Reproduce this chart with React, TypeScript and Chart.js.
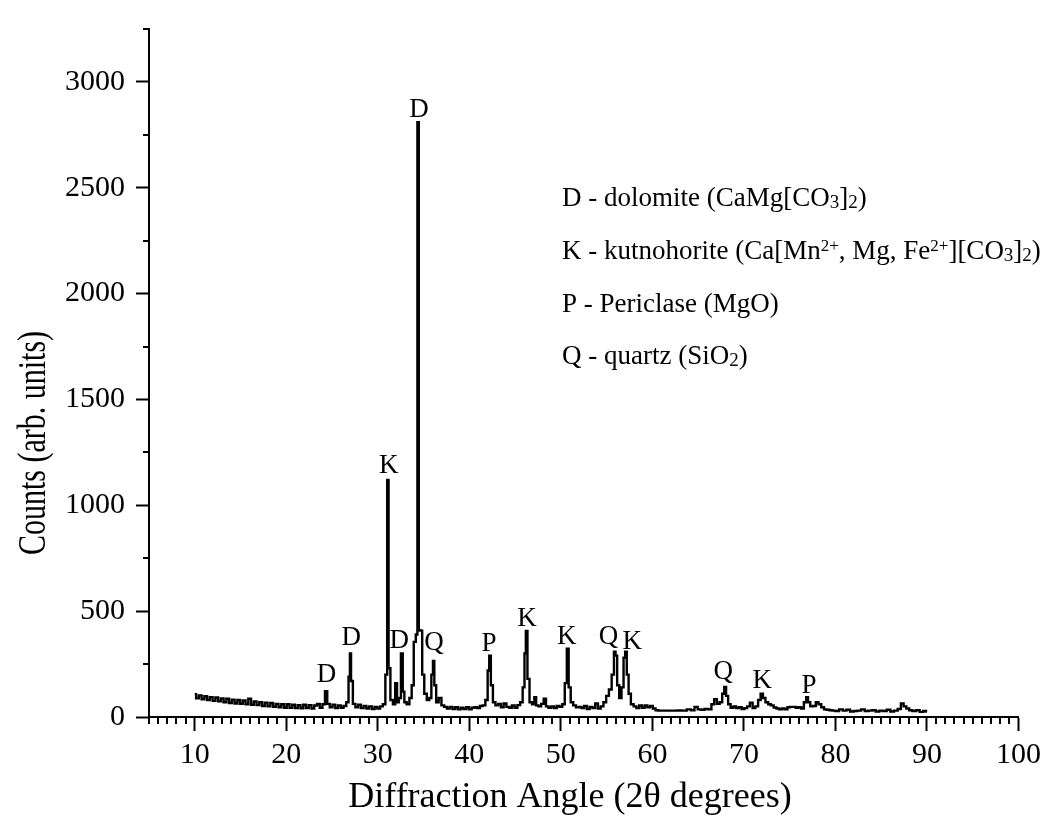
import React, { useEffect, useRef } from 'react';
import { Chart, registerables } from 'chart.js';

Chart.register(...registerables);

// 2θ angles (degrees)
const angles = [
  10.0, 10.3, 10.6, 10.9, 11.2, 11.5, 11.8, 12.1, 12.4, 12.7, 13.0, 13.3, 13.6, 13.9, 14.2, 14.5, 14.8,
  15.1, 15.4, 15.7, 16.0, 16.3, 16.6, 16.9, 17.2, 17.5, 17.8, 18.1, 18.4, 18.7, 19.0, 19.3, 19.6, 19.9,
  20.2, 20.5, 20.8, 21.1, 21.4, 21.7, 22.0, 22.3, 22.6, 22.9, 23.2, 23.5, 23.8, 24.1, 24.35, 24.6, 24.9,
  25.2, 25.5, 25.8, 26.1, 26.4, 26.7, 26.9, 27.0, 27.15, 27.4, 27.7, 28.0, 28.3, 28.6, 28.9, 29.2, 29.5,
  29.8, 30.1, 30.4, 30.7, 30.95, 31.1, 31.25, 31.5, 31.8, 32.0, 32.2, 32.4, 32.65, 32.8, 33.0, 33.3, 33.6,
  33.8, 34.05, 34.25, 34.4, 34.55, 34.75, 34.95, 35.2, 35.5, 35.75, 35.95, 36.1, 36.25, 36.5, 36.8, 37.1,
  37.4, 37.7, 38.0, 38.3, 38.6, 38.9, 39.2, 39.5, 39.8, 40.1, 40.4, 40.7, 41.0, 41.3, 41.6, 41.9, 42.1,
  42.25, 42.45, 42.7, 43.0, 43.3, 43.6, 43.9, 44.2, 44.5, 44.8, 45.1, 45.4, 45.7, 45.95, 46.1, 46.25, 46.45,
  46.7, 47.0, 47.2, 47.4, 47.7, 48.0, 48.25, 48.5, 48.8, 49.1, 49.4, 49.7, 50.0, 50.3, 50.55, 50.75, 50.95,
  51.2, 51.5, 51.8, 52.1, 52.4, 52.7, 53.0, 53.3, 53.6, 53.9, 54.2, 54.5, 54.8, 55.1, 55.4, 55.7, 55.9,
  56.05, 56.25, 56.5, 56.75, 56.95, 57.1, 57.3, 57.5, 57.8, 58.1, 58.4, 58.7, 59.0, 59.3, 59.6, 59.9, 60.2,
  60.5, 60.8, 61.1, 61.5, 62.0, 62.5, 63.0, 63.5, 64.0, 64.4, 64.8, 65.1, 65.5, 65.9, 66.3, 66.6, 66.9,
  67.2, 67.5, 67.75, 67.95, 68.15, 68.4, 68.7, 69.0, 69.3, 69.6, 69.9, 70.2, 70.5, 70.8, 71.1, 71.4, 71.7,
  71.95, 72.2, 72.5, 72.8, 73.1, 73.4, 73.7, 74.0, 74.3, 74.6, 74.9, 75.2, 75.5, 75.8, 76.1, 76.4, 76.7,
  76.9, 77.1, 77.4, 77.7, 78.0, 78.3, 78.6, 78.9, 79.2, 79.5, 79.8, 80.2, 80.6, 81.0, 81.4, 81.8, 82.2,
  82.6, 83.0, 83.4, 83.8, 84.2, 84.6, 85.0, 85.4, 85.8, 86.2, 86.6, 87.0, 87.3, 87.6, 87.9, 88.2, 88.6,
  89.0, 89.4, 89.8, 90.0,
];

// Counts (arb. units)
const counts = [
  108, 88, 102, 84, 98, 80, 94, 76, 92, 74, 88, 70, 86, 66, 82, 64, 80,
  62, 78, 60, 86, 58, 74, 56, 70, 52, 68, 50, 66, 48, 62, 46, 60, 44,
  60, 43, 58, 42, 56, 41, 58, 42, 56, 40, 54, 62, 44, 60, 122, 62, 46,
  58, 42, 54, 44, 52, 70, 190, 300, 170, 62, 46, 58, 42, 52, 40, 50, 38,
  48, 40, 50, 60, 200, 1120, 230, 80, 60, 160, 70, 90, 300, 120, 70, 60, 90,
  150, 355, 390, 2810, 410, 408, 200, 110, 80, 90, 200, 265, 150, 70, 90, 55,
  48, 40, 48, 38, 46, 36, 44, 38, 46, 36, 44, 46, 42, 52, 55, 80, 220,
  290, 150, 70, 55, 62, 46, 64, 48, 44, 54, 44, 56, 70, 140, 300, 407, 180,
  70, 60, 93, 55, 50, 62, 87, 50, 44, 50, 42, 52, 48, 60, 160, 323, 140,
  70, 55, 46, 48, 42, 52, 38, 48, 42, 64, 40, 50, 70, 100, 130, 200, 308,
  290, 150, 90, 140, 280, 308, 200, 110, 60, 50, 42, 54, 44, 54, 46, 52, 40,
  32, 30, 30, 30, 30, 30, 31, 30, 36, 32, 48, 36, 34, 38, 36, 60, 84,
  62, 70, 110, 142, 100, 60, 44, 50, 42, 46, 38, 42, 50, 68, 42, 50, 80,
  110, 90, 70, 60, 55, 45, 40, 36, 40, 36, 46, 48, 48, 44, 46, 40, 70,
  93, 70, 50, 52, 70, 60, 46, 36, 34, 32, 30, 28, 36, 30, 34, 26, 28,
  30, 36, 28, 30, 32, 26, 30, 28, 34, 26, 30, 38, 64, 50, 40, 32, 28,
  32, 24, 28, 26,
];

const xTickValues = [10, 20, 30, 40, 50, 60, 70, 80, 90, 100];
const yTickValues = [0, 500, 1000, 1500, 2000, 2500, 3000];

// Peak annotations
const peakLetters = ['D', 'D', 'K', 'D', 'D', 'Q', 'P', 'K', 'K', 'Q', 'K', 'Q', 'K', 'P'];
const peakLetterAngles = [24.4, 27.1, 31.2, 32.35, 34.5, 36.15, 42.15, 46.3, 50.65, 55.2, 57.8, 67.75, 72.0, 77.1];
const peakLetterCounts = [166, 340, 1153, 326, 2834, 317, 312, 432, 345, 345, 322, 179, 138, 115];

type Seg = [string, 'n' | 'sub' | 'sup'];
const legendLines: Seg[][] = [
  [['D - dolomite (CaMg[CO', 'n'], ['3', 'sub'], [']', 'n'], ['2', 'sub'], [')', 'n']],
  [['K - kutnohorite (Ca[Mn', 'n'], ['2+', 'sup'], [', Mg, Fe', 'n'], ['2+', 'sup'], ['][CO', 'n'], ['3', 'sub'], [']', 'n'], ['2', 'sub'], [')', 'n']],
  [['P - Periclase (MgO)', 'n']],
  [['Q - quartz (SiO', 'n'], ['2', 'sub'], [')', 'n']],
];

const xTitle = 'Diffraction Angle (2θ degrees)';
const yTitle = 'Counts (arb. units)';

const FONT = '"Liberation Serif", "Times New Roman", serif';

const overlayPlugin = {
  id: 'overlay',
  afterDraw(chart: any) {
    const ctx: CanvasRenderingContext2D = chart.ctx;
    const xs = chart.scales.x;
    const ys = chart.scales.y;
    const area = chart.chartArea;
    ctx.save();
    ctx.strokeStyle = '#000';
    ctx.lineWidth = 2;
    ctx.beginPath();
    for (let v = 5; v <= 100; v += 1) {
      if (v % 10 === 0) continue;
      const px = Math.round(xs.getPixelForValue(v));
      ctx.moveTo(px, area.bottom);
      ctx.lineTo(px, area.bottom + 7);
    }
    for (let v = 250; v <= 3250; v += 500) {
      const py = Math.round(ys.getPixelForValue(v));
      ctx.moveTo(area.left, py);
      ctx.lineTo(area.left - 6, py);
    }
    ctx.stroke();

    // peak letters
    ctx.fillStyle = '#000';
    ctx.font = `27px ${FONT}`;
    ctx.textAlign = 'center';
    ctx.textBaseline = 'alphabetic';
    peakLetters.forEach((l, i) => {
      ctx.fillText(l, xs.getPixelForValue(peakLetterAngles[i]), ys.getPixelForValue(peakLetterCounts[i]));
    });

    // legend text
    ctx.textAlign = 'left';
    const lx = area.left + 413;
    const baselines = [177, 230, 283, 335];
    legendLines.forEach((segs, i) => {
      let x = lx;
      const by = area.top + baselines[i];
      segs.forEach(([t, kind]) => {
        if (kind === 'n') {
          ctx.font = `27px ${FONT}`;
          ctx.fillText(t, x, by);
        } else if (kind === 'sub') {
          ctx.font = `19px ${FONT}`;
          ctx.fillText(t, x, by + 2);
        } else {
          ctx.font = `17px ${FONT}`;
          ctx.fillText(t, x, by - 8);
        }
        x += ctx.measureText(t).width;
      });
    });

    // axis titles
    ctx.font = `36px ${FONT}`;
    ctx.textAlign = 'center';
    ctx.fillText(xTitle, 570, 807);

    ctx.save();
    ctx.translate(45, 443);
    ctx.rotate(-Math.PI / 2);
    ctx.scale(0.75, 1);
    ctx.font = `40px ${FONT}`;
    ctx.textAlign = 'center';
    ctx.fillText(yTitle, 0, 0);
    ctx.restore();

    ctx.restore();
  },
};

export default function App() {
  const ref = useRef<HTMLCanvasElement | null>(null);
  useEffect(() => {
    if (!ref.current) return;
    const chart = new Chart(ref.current, {
      type: 'line',
      data: {
        datasets: [
          {
            data: angles.map((a, i) => ({ x: a, y: counts[i] })),
            borderColor: '#000',
            borderWidth: 2.4,
            pointRadius: 0,
            tension: 0,
            stepped: 'middle',
            fill: false,
          },
        ],
      },
      options: {
        animation: false,
        responsive: true,
        maintainAspectRatio: false,
        layout: { padding: { top: 9, right: 27, left: 0, bottom: 0 } },
        plugins: { legend: { display: false }, tooltip: { enabled: false } },
        scales: {
          x: {
            type: 'linear',
            min: 5,
            max: 100,
            afterBuildTicks: (s: any) => {
              s.ticks = xTickValues.map((v) => ({ value: v }));
            },
            afterFit: (s: any) => {
              s.height = 104;
            },
            ticks: {
              color: '#000',
              font: { family: FONT, size: 30 },
              padding: 6,
              maxRotation: 0,
              autoSkip: false,
              callback: (v: any) => String(v),
            },
            grid: {
              drawOnChartArea: false,
              drawTicks: true,
              tickLength: 14,
              tickWidth: 2,
              tickColor: '#000',
            },
            border: { display: true, color: '#000', width: 2 },
          },
          y: {
            type: 'linear',
            min: 0,
            max: 3250,
            afterBuildTicks: (s: any) => {
              s.ticks = yTickValues.map((v) => ({ value: v }));
            },
            afterFit: (s: any) => {
              s.width = 149;
            },
            ticks: {
              color: '#000',
              font: { family: FONT, size: 30 },
              padding: 11,
              autoSkip: false,
              callback: (v: any) => String(v),
            },
            grid: {
              drawOnChartArea: false,
              drawTicks: true,
              tickLength: 13,
              tickWidth: 2,
              tickColor: '#000',
            },
            border: { display: true, color: '#000', width: 2 },
          },
        },
      },
      plugins: [overlayPlugin],
    });
    return () => chart.destroy();
  }, []);
  return (
    <div style={{ position: 'fixed', left: 0, top: 0, width: 1047, height: 821, background: '#fff' }}>
      <canvas ref={ref} />
    </div>
  );
}
